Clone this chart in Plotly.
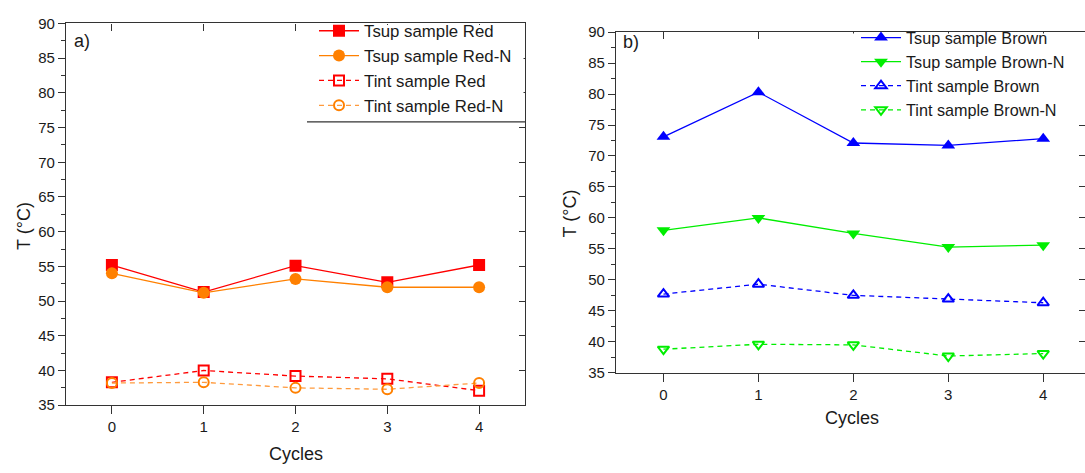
import plotly.graph_objects as go

# ---- data ----
cycles = [0, 1, 2, 3, 4]

tsup_red = [55.2, 51.3, 55.1, 52.7, 55.2]
tsup_red_n = [54.0, 51.2, 53.2, 52.0, 52.0]
tint_red = [38.3, 40.0, 39.2, 38.8, 37.1]
tint_red_n = [38.2, 38.3, 37.5, 37.3, 38.2]

tsup_brown = [73.1, 80.3, 72.1, 71.7, 72.8]
tsup_brown_n = [58.0, 60.0, 57.5, 55.3, 55.6]
tint_brown = [47.7, 49.3, 47.5, 46.9, 46.3]
tint_brown_n = [38.8, 39.6, 39.5, 37.7, 38.1]

y_range = [35, 90]
y_ticks = [35, 40, 45, 50, 55, 60, 65, 70, 75, 80, 85, 90]

# ---- page geometry (pixels) ----
W, H = 1085, 473
FONT = "Liberation Sans, Arial, sans-serif"
AXIS_COLOR = "#333333"
TEXT_COLOR = "#1a1a1a"


def px(x):
    return x / W


def py(y):
    return 1 - y / H


RED = "#FF0000"
ORANGE = "#FF8000"
ORANGE_DASH = "#FF9A3C"
BLUE = "#0000FF"
GREEN = "#00EE00"

fig = go.Figure()


def add_series(y, name, color, symbol, dashed, xa, ya, legend, line_color=None):
    fig.add_trace(go.Scatter(
        x=cycles, y=y, name=name, mode="lines+markers",
        xaxis=xa, yaxis=ya, legend=legend,
        line=dict(color=line_color or color, width=1.3,
                  dash="5px,4px" if dashed else "solid"),
        marker=dict(color=color, symbol=symbol,
                    size=10 if dashed else 12,
                    line=dict(color=color, width=2 if dashed else 0)),
    ))


# panel a)
add_series(tsup_red, "Tsup sample Red", RED, "square", False, "x", "y", "legend")
add_series(tsup_red_n, "Tsup sample Red-N", ORANGE, "circle", False, "x", "y", "legend")
add_series(tint_red, "Tint sample Red", RED, "square-open", True, "x", "y", "legend")
add_series(tint_red_n, "Tint sample Red-N", ORANGE, "circle-open", True, "x", "y", "legend",
           line_color=ORANGE_DASH)

# panel b)
add_series(tsup_brown, "Tsup sample Brown", BLUE, "triangle-up", False, "x2", "y2", "legend2")
add_series(tsup_brown_n, "Tsup sample Brown-N", GREEN, "triangle-down", False, "x2", "y2", "legend2")
add_series(tint_brown, "Tint sample Brown", BLUE, "triangle-up-open", True, "x2", "y2", "legend2")
add_series(tint_brown_n, "Tint sample Brown-N", GREEN, "triangle-down-open", True, "x2", "y2", "legend2")

# empty traces so the framing axes (top / right) get drawn
for xa, ya in (("x3", "y3"), ("x4", "y4")):
    fig.add_trace(go.Scatter(x=[], y=[], xaxis=xa, yaxis=ya, showlegend=False, hoverinfo="skip"))

# panel geometry
A_X = [px(66), px(525)]
A_Y = [py(411), py(15)]
B_X = [px(616), 1.0]
B_Y = [py(377.3), py(24)]
A_XR = [-0.5, 4.5]
B_XR = [-0.5, 4.44]

tick_font = dict(family=FONT, size=15, color=TEXT_COLOR)

common_line = dict(showline=True, linecolor=AXIS_COLOR, linewidth=1.3,
                   showgrid=False, zeroline=False, tickcolor=AXIS_COLOR)


def bottom_x(domain, rng, anchor):
    return dict(domain=domain, range=rng, anchor=anchor, tickvals=cycles,
                ticks="outside", ticklen=8, tickwidth=1.3, tickfont=tick_font,
                **common_line)


def left_y(domain, anchor):
    return dict(domain=domain, range=y_range, anchor=anchor, tickvals=y_ticks,
                ticks="outside", ticklen=7, tickwidth=1.3, tickfont=tick_font,
                minor=dict(dtick=2.5, tick0=35, ticks="outside", ticklen=4,
                           tickcolor=AXIS_COLOR, tickwidth=1),
                **common_line)


def top_x(domain, rng, anchor, overlay):
    return dict(domain=domain, range=rng, anchor=anchor, overlaying=overlay,
                side="top", tickvals=cycles, ticks="inside", ticklen=7,
                tickwidth=1.3, showticklabels=False, **common_line)


def right_y(anchor, overlay):
    return dict(range=y_range, anchor=anchor, overlaying=overlay, side="right",
                tickvals=y_ticks, ticks="inside", ticklen=6, tickwidth=1.3,
                showticklabels=False, **common_line)


fig.update_layout(
    width=W, height=H,
    margin=dict(l=0, r=0, t=0, b=0),
    paper_bgcolor="white", plot_bgcolor="white",
    font=dict(family=FONT, color=TEXT_COLOR),
    xaxis=bottom_x(A_X, A_XR, "y"),
    yaxis=left_y(A_Y, "x"),
    xaxis2=bottom_x(B_X, B_XR, "y2"),
    yaxis2=left_y(B_Y, "x2"),
    xaxis3=top_x(A_X, A_XR, "y3", "x"),
    yaxis3=dict(domain=A_Y, **right_y("x3", "y")),
    xaxis4=top_x(B_X, B_XR, "y4", "x2"),
    yaxis4=dict(domain=B_Y, **right_y("x4", "y2")),
    legend=dict(x=px(314), y=py(4.5), xanchor="left", yanchor="top",
                bgcolor="rgba(0,0,0,0)", borderwidth=0,
                font=dict(family=FONT, size=16.8, color=TEXT_COLOR),
                itemwidth=40, tracegroupgap=0),
    legend2=dict(x=px(856), y=py(12), xanchor="left", yanchor="top",
                 bgcolor="rgba(0,0,0,0)", borderwidth=0,
                 font=dict(family=FONT, size=16.2, color=TEXT_COLOR),
                 itemwidth=40, tracegroupgap=0),
    showlegend=True,
)

# white panels behind the legends, hiding the frame ticks there
fig.add_shape(type="rect", xref="paper", yref="paper", layer="above",
              x0=px(307), x1=px(523.5), y0=py(116), y1=py(16.5),
              fillcolor="white", line=dict(width=0))
fig.add_shape(type="rect", xref="paper", yref="paper", layer="above",
              x0=px(835), x1=1.0, y0=py(116), y1=py(25.5),
              fillcolor="white", line=dict(width=0))

# rule under the panel a) legend
fig.add_shape(type="line", xref="paper", yref="paper", layer="above",
              x0=px(307), x1=px(525), y0=py(117), y1=py(117),
              line=dict(color=AXIS_COLOR, width=1.3))

title_font = dict(family=FONT, size=18, color=TEXT_COLOR)
annotations = [
    dict(text="a)", x=px(72), y=py(33), xanchor="left", yanchor="middle"),
    dict(text="b)", x=px(621), y=py(34), xanchor="left", yanchor="middle"),
    dict(text="Cycles", x=px(296), y=py(462), xanchor="center", yanchor="middle"),
    dict(text="Cycles", x=px(852), y=py(424), xanchor="center", yanchor="middle"),
    dict(text="T (°C)", x=px(24), y=py(225), textangle=-90, xanchor="center", yanchor="middle"),
    dict(text="T (°C)", x=px(570), y=py(212), textangle=-90, xanchor="center", yanchor="middle"),
]
for a in annotations:
    fig.add_annotation(xref="paper", yref="paper", showarrow=False, font=title_font, **a)

fig.write_html("out.html")
